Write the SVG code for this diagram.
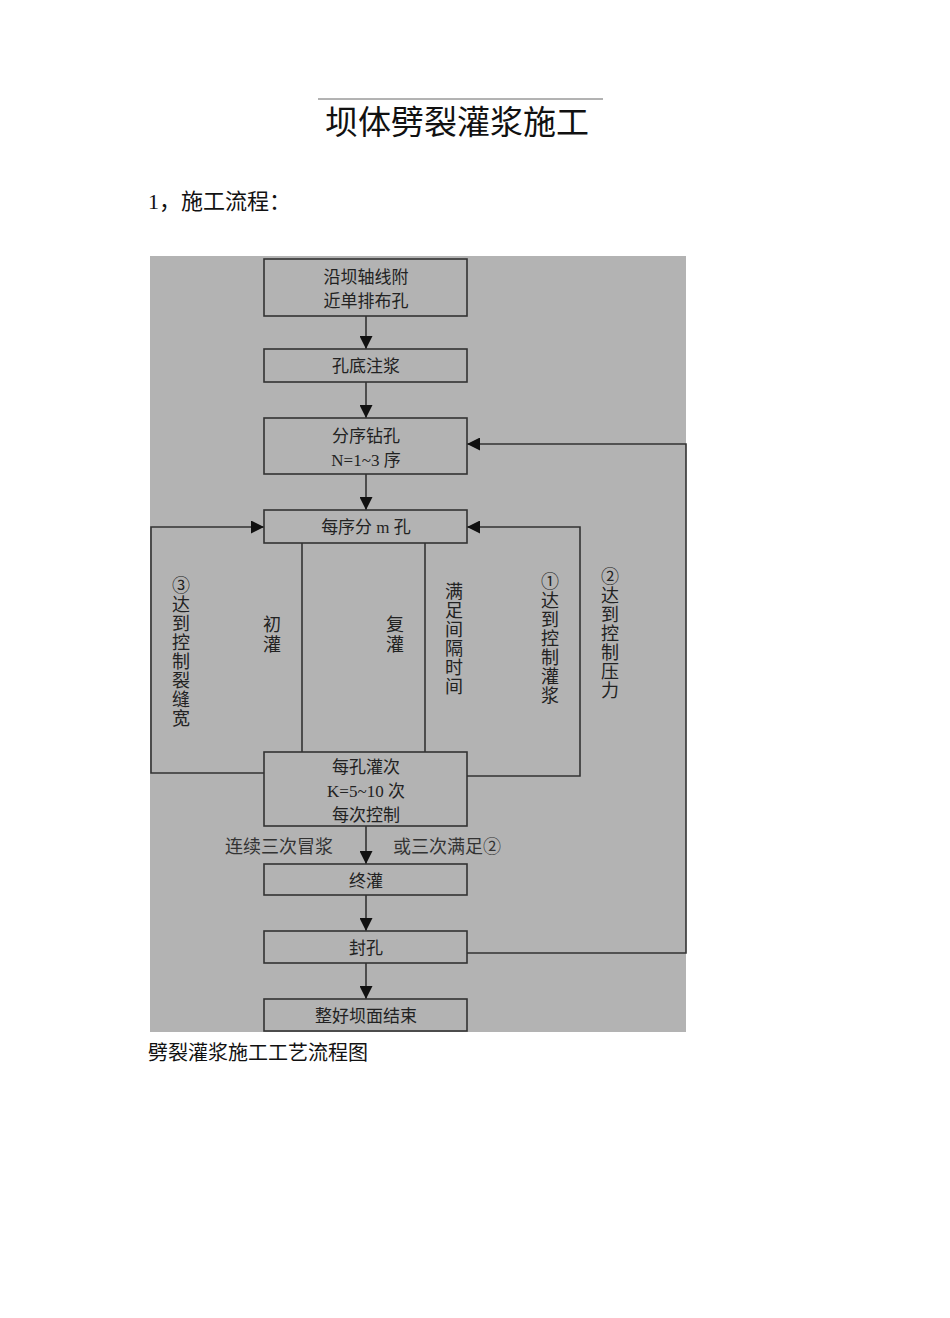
<svg xmlns="http://www.w3.org/2000/svg" width="950" height="1318" viewBox="0 0 950 1318">
<style>
.b{fill:none;stroke:#333;stroke-width:1.6}
.c{fill:none;stroke:#333;stroke-width:1.6}
.t{font-family:"Liberation Serif","Noto Sans CJK SC",serif;font-size:17px;fill:#222;text-anchor:middle}
.v{font-family:"Liberation Serif","Noto Sans CJK SC",serif;font-size:18px;fill:#222;text-anchor:middle}
</style>
<defs><marker id="a" viewBox="0 0 10 10" refX="10" refY="5" markerWidth="7" markerHeight="7" markerUnits="userSpaceOnUse" orient="auto"><path d="M0,0L10,5L0,10z" fill="#111"/></marker>
<marker id="m" viewBox="0 0 10 10" refX="10" refY="5" markerWidth="13" markerHeight="13" markerUnits="userSpaceOnUse" orient="auto"><path d="M0,0L10,5L0,10z" fill="#111"/></marker></defs>
<rect width="950" height="1318" fill="#fff"/>
<line x1="318" y1="99" x2="603" y2="99" stroke="#666" stroke-width="1"/>
<text x="457" y="134" font-family="Liberation Serif,Noto Sans CJK SC,serif" font-size="33" text-anchor="middle" fill="#111">坝体劈裂灌浆施工</text>
<text x="148" y="209" font-family="Liberation Serif,Noto Sans CJK SC,serif" font-size="22" fill="#111">1，施工流程：</text>
<rect x="150" y="256" width="536" height="776" fill="#b3b3b3"/>
<g id="connectors">
<line class="c" x1="366" y1="316" x2="366" y2="349" marker-end="url(#m)"/>
<line class="c" x1="366" y1="382" x2="366" y2="418" marker-end="url(#m)"/>
<line class="c" x1="366" y1="474" x2="366" y2="510" marker-end="url(#m)"/>
<line class="c" x1="302" y1="543" x2="302" y2="752"/>
<line class="c" x1="425" y1="543" x2="425" y2="752"/>
<polyline class="c" points="264,773 151,773 151,527 264,527" marker-end="url(#m)"/>
<polyline class="c" points="467,776 580,776 580,527 467,527" marker-end="url(#m)"/>
<polyline class="c" points="467,953 686,953 686,444 467,444" marker-end="url(#m)"/>
<line class="c" x1="366" y1="826" x2="366" y2="864" marker-end="url(#m)"/>
<line class="c" x1="366" y1="895" x2="366" y2="931" marker-end="url(#m)"/>
<line class="c" x1="366" y1="963" x2="366" y2="999" marker-end="url(#m)"/>
</g>
<g id="n1"><rect class="b" x="264" y="259" width="203" height="57"/><text class="t" x="366" y="283">沿坝轴线附</text><text class="t" x="366" y="307">近单排布孔</text></g>
<g id="n2"><rect class="b" x="264" y="349" width="203" height="33"/><text class="t" x="366" y="372">孔底注浆</text></g>
<g id="n3"><rect class="b" x="264" y="418" width="203" height="56"/><text class="t" x="366" y="442">分序钻孔</text><text class="t" x="366" y="466">N=1~3 序</text></g>
<g id="n4"><rect class="b" x="264" y="510" width="203" height="33"/><text class="t" x="366" y="533">每序分 m 孔</text></g>
<g id="n5"><rect class="b" x="264" y="752" width="203" height="74"/><text class="t" x="366" y="773">每孔灌次</text><text class="t" x="366" y="797">K=5~10 次</text><text class="t" x="366" y="821">每次控制</text></g>
<g id="n6"><rect class="b" x="264" y="864" width="203" height="31"/><text class="t" x="366" y="887">终灌</text></g>
<g id="n7"><rect class="b" x="264" y="931" width="203" height="32"/><text class="t" x="366" y="954">封孔</text></g>
<g id="n8"><rect class="b" x="264" y="999" width="203" height="32"/><text class="t" x="366" y="1022">整好坝面结束</text></g>
<g id="labels" font-family="Liberation Sans,Noto Sans CJK SC,sans-serif" font-size="18" fill="#333">
<text x="225" y="853">连续三次冒浆</text>
<text x="393" y="853">或三次满足②</text>
</g>
<g id="vlabels">
<text class="v" x="181"><tspan x="181" y="592">③</tspan><tspan x="181" dy="19">达</tspan><tspan x="181" dy="19">到</tspan><tspan x="181" dy="19">控</tspan><tspan x="181" dy="19">制</tspan><tspan x="181" dy="19">裂</tspan><tspan x="181" dy="19">缝</tspan><tspan x="181" dy="19">宽</tspan></text>
<text class="v" x="272"><tspan x="272" y="631">初</tspan><tspan x="272" dy="20">灌</tspan></text>
<text class="v" x="395"><tspan x="395" y="631">复</tspan><tspan x="395" dy="20">灌</tspan></text>
<text class="v" x="454"><tspan x="454" y="598">满</tspan><tspan x="454" dy="19">足</tspan><tspan x="454" dy="19">间</tspan><tspan x="454" dy="19">隔</tspan><tspan x="454" dy="19">时</tspan><tspan x="454" dy="19">间</tspan></text>
<text class="v" x="550"><tspan x="550" y="588">①</tspan><tspan x="550" dy="19">达</tspan><tspan x="550" dy="19">到</tspan><tspan x="550" dy="19">控</tspan><tspan x="550" dy="19">制</tspan><tspan x="550" dy="19">灌</tspan><tspan x="550" dy="19">浆</tspan></text>
<text class="v" x="610"><tspan x="610" y="583">②</tspan><tspan x="610" dy="19">达</tspan><tspan x="610" dy="19">到</tspan><tspan x="610" dy="19">控</tspan><tspan x="610" dy="19">制</tspan><tspan x="610" dy="19">压</tspan><tspan x="610" dy="19">力</tspan></text>
</g>
<text x="148" y="1060" font-family="Liberation Sans,Noto Sans CJK SC,sans-serif" font-size="20" fill="#111">劈裂灌浆施工工艺流程图</text>
</svg>
